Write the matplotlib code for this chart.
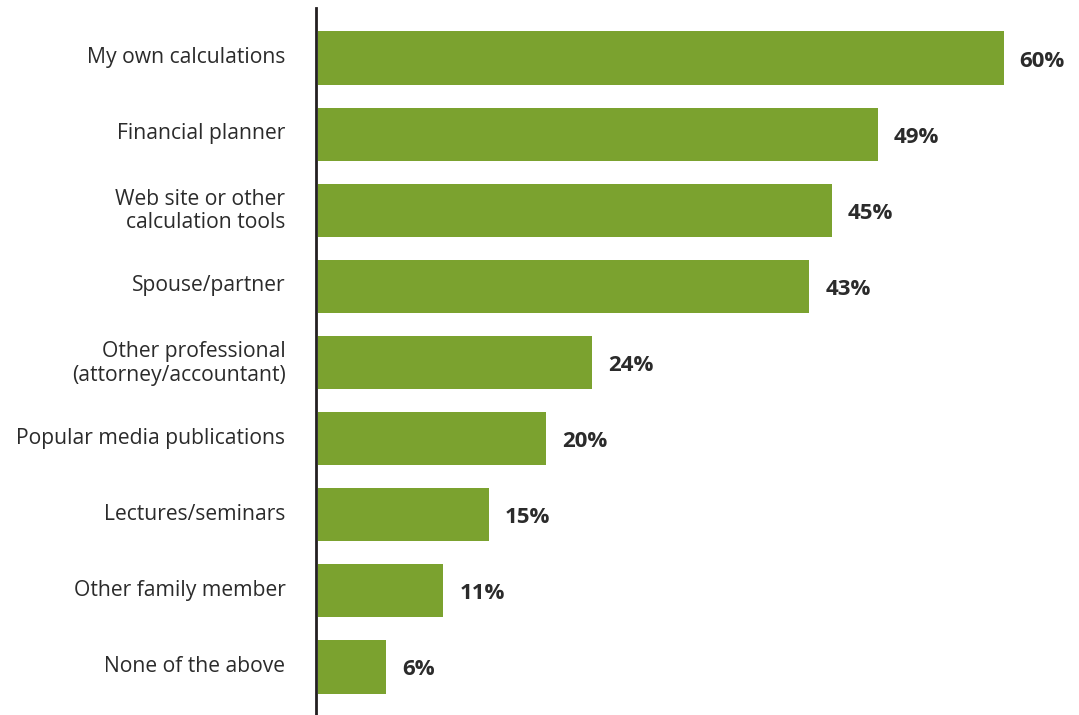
import matplotlib.pyplot as plt

plt.rcParams['font.family'] = ['Open Sans', 'DejaVu Sans']

categories = [
    'My own calculations',
    'Financial planner',
    'Web site or other\ncalculation tools',
    'Spouse/partner',
    'Other professional\n(attorney/accountant)',
    'Popular media publications',
    'Lectures/seminars',
    'Other family member',
    'None of the above',
]
values = [60, 49, 45, 43, 24, 20, 15, 11, 6]

bar_color = '#7ba22f'
text_color = '#2b2b2b'

fig = plt.figure(figsize=(10.79, 7.15), dpi=100)
ax = fig.add_axes([316 / 1079, 0, 763 / 1079, 707 / 715])

pos = range(len(categories))
ax.barh(pos, values, height=0.70, color=bar_color, left=0.15)

# percentage labels to the right of each bar
for p, v in zip(pos, values):
    ax.text(v + 1.55, p + 0.04, f'{v}%', va='center', ha='left',
            fontsize=16, fontweight='bold', color=text_color)

ax.set_xlim(0, 66.75)
ax.set_ylim(8.632, -0.658)

ax.set_yticks([p - 0.04 for p in pos])
ax.set_yticklabels(categories, fontsize=15.2, color=text_color, linespacing=1.17)
ax.tick_params(axis='y', length=0, pad=22)
ax.set_xticks([])

for side in ['top', 'right', 'bottom']:
    ax.spines[side].set_visible(False)
ax.spines['left'].set_linewidth(2)
ax.spines['left'].set_color('#231f20')

fig.savefig('out.png', dpi=100)
